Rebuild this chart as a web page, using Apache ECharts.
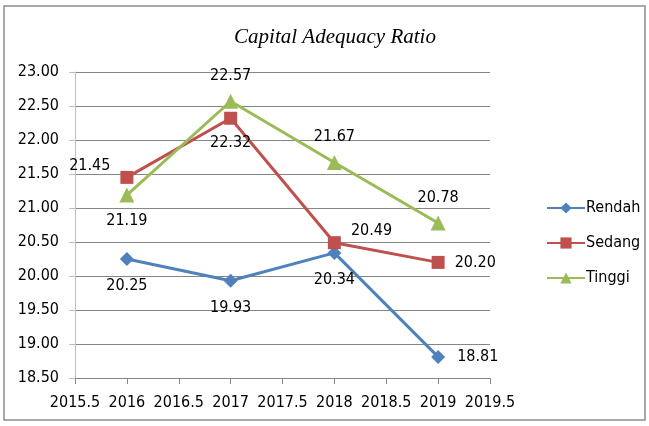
<!DOCTYPE html>
<html>
<head>
<meta charset="utf-8">
<script src="https://cdn.jsdelivr.net/npm/echarts@6/dist/echarts.min.js"></script>
<style>
html, body { margin: 0; padding: 0; background: #fff; }
#chart { width: 649px; height: 426px; }
</style>
</head>
<body>
<div id="chart"></div>
<script>
// years on a value axis, as in the original
const years = [2016, 2017, 2018, 2019];
const rendah = [20.25, 19.93, 20.34, 18.81];
const sedang = [21.45, 22.32, 20.49, 20.20];
const tinggi = [21.19, 22.57, 21.67, 20.78];

// where each point's label sits
const rendahPos = ['bottom', 'bottom', 'bottom', 'right'];
const sedangPos = ['lefttop', 'bottom', 'righttop', 'right'];
const tinggiPos = ['bottom', 'top', 'top', 'top'];

function labelFor(p) {
    if (p === 'lefttop') return { position: 'left', offset: [0, -12] };
    if (p === 'righttop') return { position: 'right', offset: [0, -12] };
    return { position: p };
}

function points(vals, pos) {
    return vals.map(function (v, i) {
        return { value: [years[i], v], label: labelFor(pos[i]) };
    });
}

const font = '"DejaVu Sans Condensed", "Liberation Sans", sans-serif';

var myChart = echarts.init(document.getElementById('chart'));
myChart.setOption({
    animation: false,
    title: {
        text: 'Capital Adequacy Ratio',
        left: 330,
        textAlign: 'center',
        top: 22,
        textStyle: {
            fontFamily: '"Liberation Serif", serif',
            fontStyle: 'italic',
            fontWeight: 'normal',
            fontSize: 21,
            color: '#000'
        }
    },
    graphic: [{
        type: 'rect',
        shape: { x: 4, y: 6, width: 641, height: 414 },
        style: { fill: 'none', stroke: '#8c8c8c', lineWidth: 1.5 },
        silent: true
    }],
    legend: {
        orient: 'vertical',
        left: 541,
        top: 195,
        itemGap: 19,
        itemWidth: 38,
        itemHeight: 14,
        textStyle: { fontFamily: font, fontSize: 16, color: '#000', padding: [0, 0, 0, -4] },
        data: ['Rendah', 'Sedang', 'Tinggi']
    },
    grid: {
        left: 75,
        right: 159,
        top: 72,
        bottom: 48
    },
    xAxis: {
        type: 'value',
        min: 2015.5,
        max: 2019.5,
        interval: 0.5,
        axisLine: { lineStyle: { color: '#868686' } },
        axisTick: { show: true, length: 6, lineStyle: { color: '#868686' } },
        axisLabel: {
            fontFamily: font, fontSize: 16, color: '#000', margin: 17,
            formatter: function (v) { return String(v); }
        },
        splitLine: { show: false }
    },
    yAxis: {
        type: 'value',
        min: 18.5,
        max: 23,
        interval: 0.5,
        axisLine: { show: true, lineStyle: { color: '#bfbfbf' } },
        axisTick: { show: true, length: 6, lineStyle: { color: '#bfbfbf' } },
        axisLabel: {
            fontFamily: font, fontSize: 16, color: '#000', margin: 16,
            formatter: function (v) { return v.toFixed(2); }
        },
        splitLine: { show: true, lineStyle: { color: '#868686' } }
    },
    series: [
        {
            name: 'Rendah',
            type: 'line',
            data: points(rendah, rendahPos),
            symbol: 'diamond',
            symbolSize: 14,
            itemStyle: { color: '#4f81bd' },
            lineStyle: { width: 3, color: '#4f81bd' },
            label: {
                show: true, distance: 12, fontFamily: font, fontSize: 16, color: '#000',
                formatter: function (p) { return p.value[1].toFixed(2); }
            }
        },
        {
            name: 'Sedang',
            type: 'line',
            data: points(sedang, sedangPos),
            symbol: 'rect',
            symbolSize: 13,
            itemStyle: { color: '#c0504d' },
            lineStyle: { width: 3, color: '#c0504d' },
            label: {
                show: true, distance: 10, fontFamily: font, fontSize: 16, color: '#000',
                formatter: function (p) { return p.value[1].toFixed(2); }
            }
        },
        {
            name: 'Tinggi',
            type: 'line',
            data: points(tinggi, tinggiPos),
            symbol: 'triangle',
            symbolSize: 15,
            itemStyle: { color: '#9bbb59' },
            lineStyle: { width: 3, color: '#9bbb59' },
            label: {
                show: true, distance: 10, fontFamily: font, fontSize: 16, color: '#000',
                formatter: function (p) { return p.value[1].toFixed(2); }
            }
        }
    ]
});
</script>
</body>
</html>
